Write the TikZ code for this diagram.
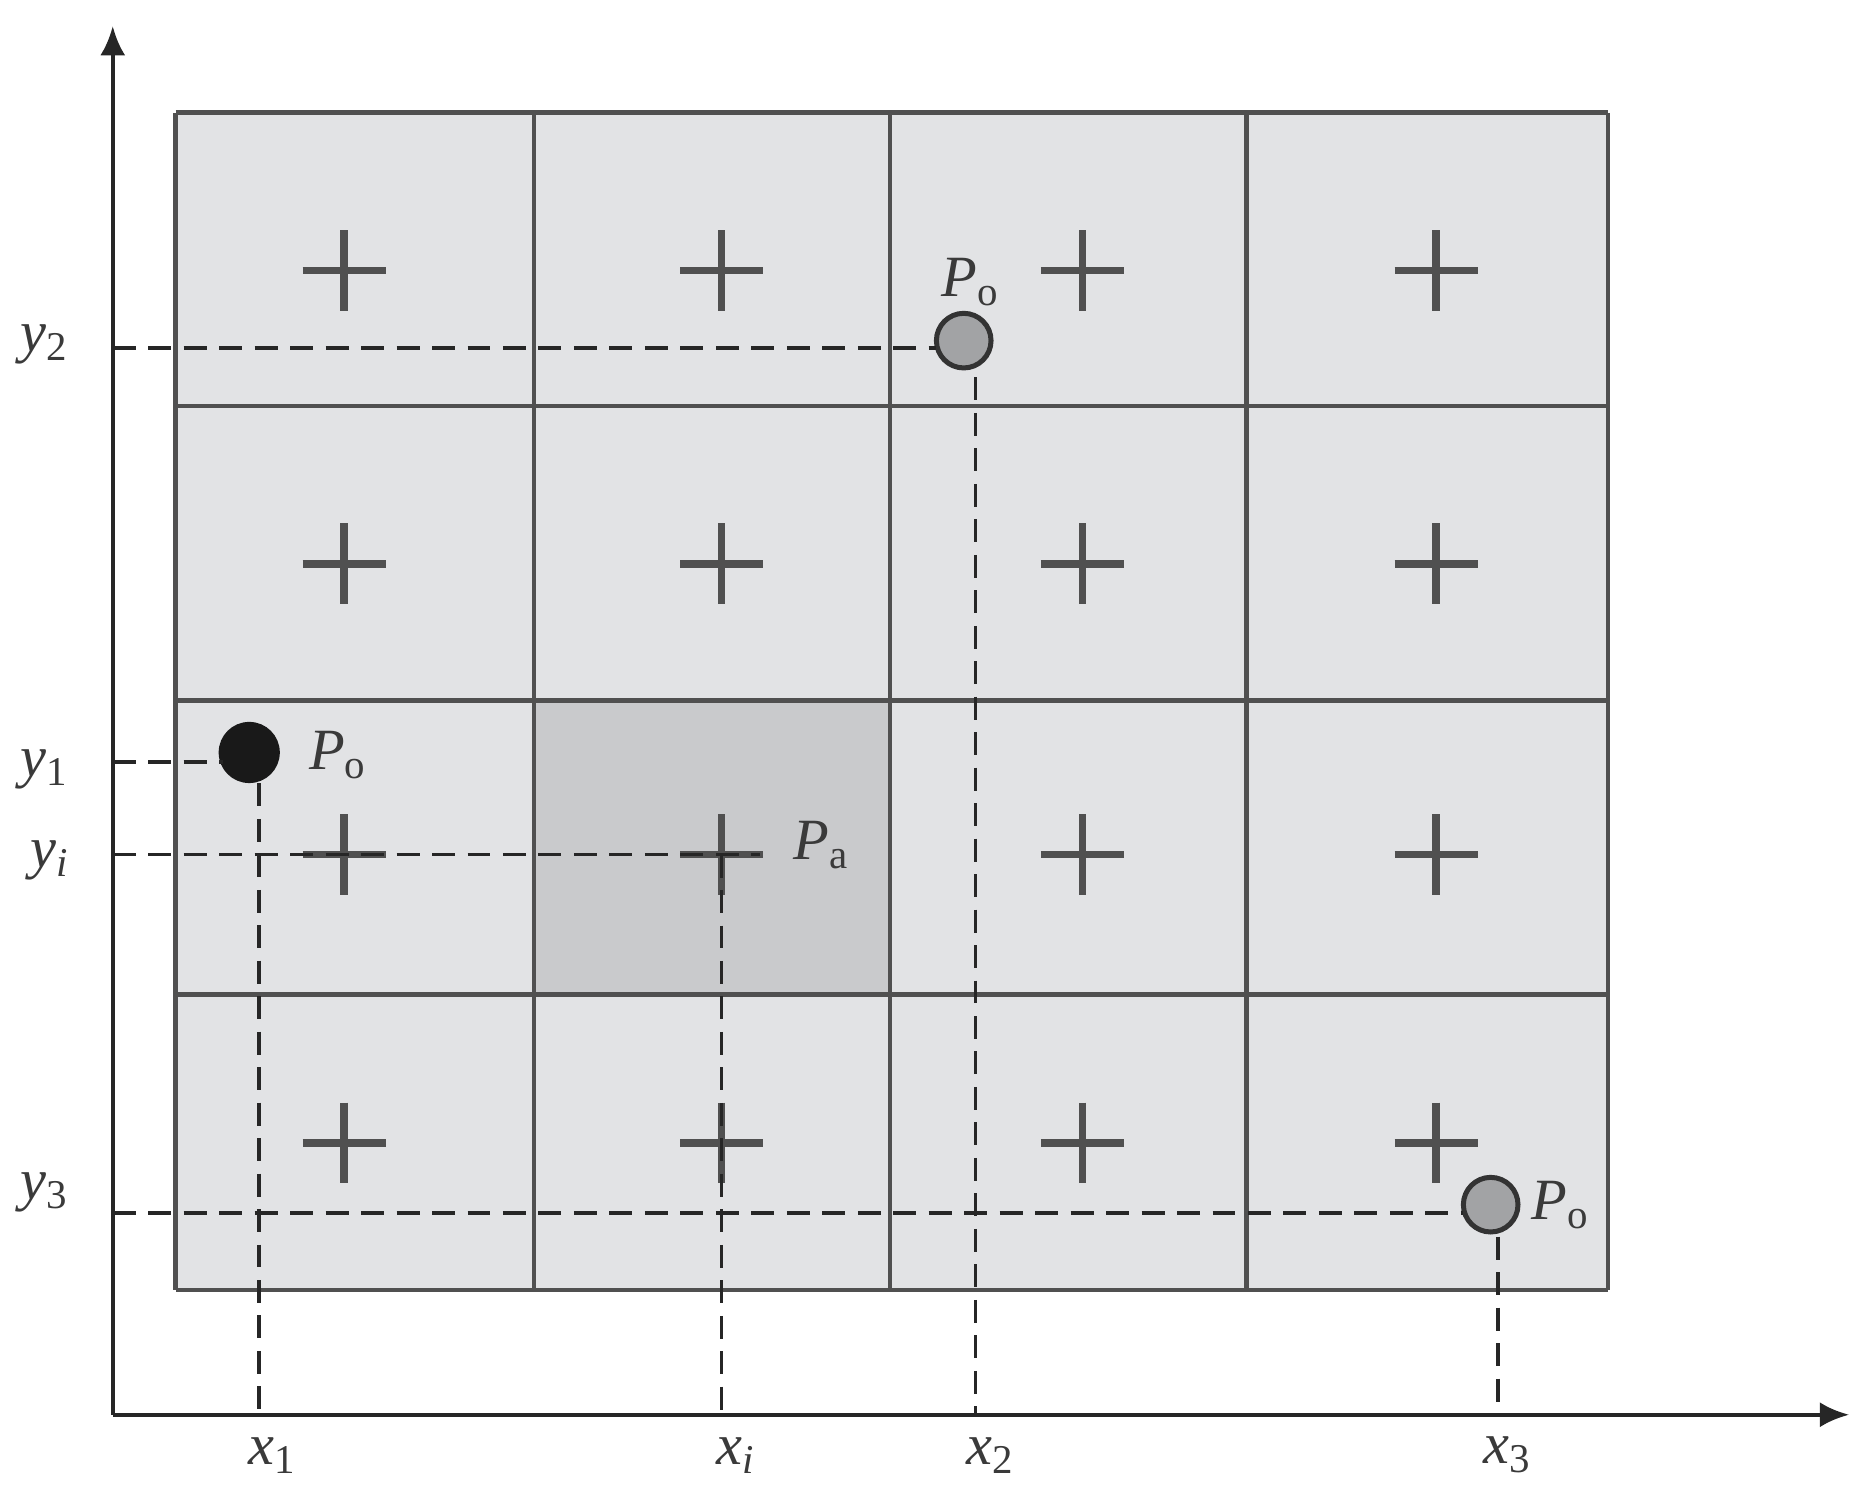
\documentclass[tikz,border=0pt]{standalone}
\usepackage{fontspec}
\setmainfont{Liberation Serif}
\usetikzlibrary{arrows.meta}
\definecolor{cellgray}{HTML}{E2E3E5}
\definecolor{darkcell}{HTML}{C9CACC}
\definecolor{linegray}{HTML}{505050}
\definecolor{dotgray}{HTML}{A2A3A5}
\definecolor{txtgray}{HTML}{3A3A3A}
\tikzset{
  gridline/.style={draw=linegray, line width=1.1pt},
  axisline/.style={draw=black!85, line width=1pt, -{Latex[length=7pt,width=6pt]}},
  dashline/.style={draw=black!85, line width=0.9pt, dash pattern=on 5.5pt off 3pt},
  plusmark/.style={draw=linegray, line width=1.8pt},
  lbl/.style={text=txtgray, inner sep=0pt, font=\fontsize{14}{16}\selectfont},
  graydot/.style={circle, draw=black!80, fill=dotgray, line width=1.2pt, minimum size=0.46cm, inner sep=0pt},
  blackdot/.style={circle, draw=black!90, fill=black!90, line width=1pt, minimum size=0.48cm, inner sep=0pt},
}
\newcommand{\Pl}[2]{\draw[plusmark] (#1-35,#2) -- (#1+35,#2) (#1,#2-34) -- (#1,#2+34);}
\begin{document}
\begin{tikzpicture}[x=0.01cm,y=-0.01cm]
\useasboundingbox (0,0) rectangle (1568,1266);
% cells
\fill[cellgray] (148,95) rectangle (1355,1087);
\fill[darkcell] (450,590) rectangle (750,838);
% grid lines
\foreach \x in {148,450,750,1050,1355} \draw[gridline] (\x,95) -- (\x,1087);
\foreach \y in {95,342,590,838,1087} \draw[gridline] (148,\y) -- (1355,\y);
% pluses
\foreach \px in {290,608,912,1210}
  \foreach \py in {228,475,720,963} { \Pl{\px}{\py} }
% axes
\coordinate (O) at (95,1192);
\coordinate (Ytip) at (95,22);
\coordinate (Xtip) at (1558,1192);
\draw[axisline] (O) -- (Ytip);
\draw[axisline] (O) -- (Xtip);
% points
\node[graydot] (p2) at (812,287) {};
\node[blackdot] (p1) at (210,634) {};
\node[graydot] (p3) at (1256,1015) {};
\coordinate (pa) at (608,720);
% axis coordinates
\coordinate (ay2) at (95,293);
\coordinate (ay1) at (95,642);
\coordinate (ayi) at (95,720);
\coordinate (ay3) at (95,1022);
\coordinate (ax1) at (218,1192);
\coordinate (axi) at (608,1192);
\coordinate (ax2) at (822,1192);
\coordinate (ax3) at (1262,1192);
% dashed projections
\draw[dashline] (ay2) -- (789,293);
\draw[dashline] (822,318) -- (ax2);
\draw[dashline] (ay1) -- (188,642);
\draw[dashline] (218,660) -- (ax1);
\draw[dashline] (ayi) -- (640,720);
\draw[dashline] (pa) -- (axi);
\draw[dashline] (ay3) -- (1233,1022);
\draw[dashline] (1262,1042) -- (ax3);
% labels
\node[lbl] (ly2) at (38,290) {\itshape y\textsubscript{\upshape 2}};
\node[lbl] (ly1) at (38,648) {\itshape y\textsubscript{\upshape 1}};
\node[lbl] (lyi) at (42,725) {\itshape y\textsubscript{i}};
\node[lbl] (ly3) at (38,1005) {\itshape y\textsubscript{\upshape 3}};
\node[lbl] (lx1) at (230,1226) {\itshape x\textsubscript{\upshape 1}};
\node[lbl] (lxi) at (620,1226) {\itshape x\textsubscript{i}};
\node[lbl] (lx2) at (835,1226) {\itshape x\textsubscript{\upshape 2}};
\node[lbl] (lx3) at (1270,1226) {\itshape x\textsubscript{\upshape 3}};
\node[lbl] (lp2) at (818,238) {\textit{P}\textsubscript{o}};
\node[lbl] (lp1) at (285,636) {\textit{P}\textsubscript{o}};
\node[lbl] (lpa) at (692,712) {\textit{P}\textsubscript{a}};
\node[lbl] (lp3) at (1315,1015) {\textit{P}\textsubscript{o}};
\end{tikzpicture}
\end{document}
